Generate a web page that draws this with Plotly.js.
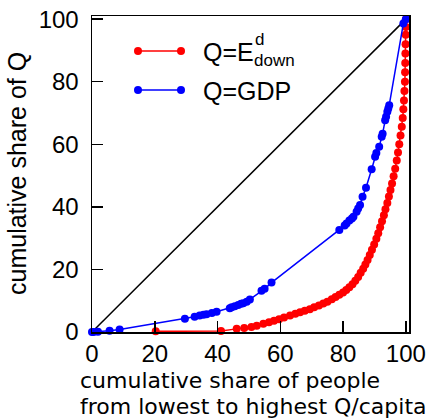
<!DOCTYPE html>
<html>
<head>
<meta charset="utf-8">
<script src="https://cdn.plot.ly/plotly-3.0.1.min.js"></script>
<style>html,body{margin:0;padding:0;background:#fff;}#chart{width:427px;height:419px;}</style>
</head>
<body>
<div id="chart"></div>
<script>
// Q = E_down^d  (red)
const edownX = [20.3, 41.1, 46.1, 48.5, 50.8, 52.5, 54.6, 56.4, 58.0, 59.6, 61.2, 63.1, 64.8, 66.3, 67.8, 69.4, 70.8, 72.3, 73.7, 75.0, 76.4, 77.6, 78.8, 80.0, 81.0, 82.0, 83.0, 83.9, 84.8, 85.6, 86.4, 87.1, 87.8, 88.5, 89.2, 89.9, 90.6, 91.2, 91.8, 92.4, 93.0, 93.5, 94.1, 94.6, 95.1, 95.6, 96.1, 96.6, 97.1, 97.5, 97.9, 98.3, 98.7, 99.0, 99.2, 99.4, 99.55, 99.7, 99.75, 99.8, 99.85, 99.9, 99.95, 100, 100];
const edownY = [0.2, 0.3, 1.0, 1.3, 1.6, 2.0, 2.6, 3.1, 3.6, 4.1, 4.6, 5.3, 5.8, 6.3, 6.8, 7.3, 7.9, 8.5, 9.1, 9.7, 10.5, 11.2, 11.9, 12.6, 13.4, 14.3, 15.3, 16.4, 17.6, 18.9, 20.2, 21.6, 23.0, 24.6, 26.3, 28.0, 29.8, 31.6, 33.5, 35.4, 37.3, 39.2, 41.2, 43.3, 45.4, 47.5, 49.8, 52.2, 54.8, 57.4, 60.0, 62.8, 65.6, 68.4, 71.2, 74.0, 77.0, 80.0, 83.0, 86.0, 89.0, 92.0, 95.0, 97.5, 100];
// Q = GDP (blue)
const gdpX = [0, 0.5, 1.9, 5.6, 8.8, 29.6, 32.7, 34.3, 35.5, 36.5, 38.2, 39.7, 43.9, 44.5, 45.5, 46.6, 47.5, 48.2, 49.3, 50.3, 54.0, 55.0, 57.2, 78.8, 80.5, 81.1, 82.0, 82.8, 83.3, 84.3, 84.8, 85.4, 86.2, 87.3, 89.1, 90.2, 90.6, 91.5, 92.3, 92.6, 93.4, 93.7, 94.1, 94.4, 94.7, 99.2, 100];
const gdpY = [0, 0.02, 0.1, 0.4, 0.8, 4.2, 4.9, 5.3, 5.5, 5.7, 6.1, 6.5, 7.6, 7.9, 8.2, 8.6, 9.0, 9.2, 9.7, 10.4, 13.2, 13.8, 15.8, 32.6, 34.0, 34.7, 35.6, 36.3, 36.8, 38.4, 39.5, 40.6, 43.2, 46.1, 52.0, 56.0, 57.2, 59.2, 62.4, 63.4, 67.7, 68.8, 70.4, 71.4, 72.5, 98.6, 100];
// line of equality
const eqX = [0, 100];
const eqY = [0, 100];
const tickVals = [0, 20, 40, 60, 80, 100];
const tickText = ['0', '20', '40', '60', '80', '100'];
const xTitle1 = 'cumulative share of people';
const xTitle2 = 'from lowest to highest Q/capita';
const yTitle = 'cumulative share of Q';
const nameEdown = 'Q=E';
const nameGdp = 'Q=GDP';

const FONT = 'Liberation Sans, Arial, Helvetica, sans-serif';
const WIDE = 'DejaVu Sans, Liberation Sans, sans-serif';
const RED = '#ff0000', BLUE = '#0000ff';

const traces = [
  {x: eqX, y: eqY, mode: 'lines', line: {color: '#000', width: 1.5}, showlegend: false, hoverinfo: 'skip'},
  {x: edownX, y: edownY, mode: 'lines+markers', name: 'Q=E_down^d', line: {color: RED, width: 1.5},
   marker: {color: RED, size: 8}, cliponaxis: false, showlegend: false},
  {x: gdpX, y: gdpY, mode: 'lines+markers', name: nameGdp, line: {color: BLUE, width: 1.5},
   marker: {color: BLUE, size: 8}, cliponaxis: false, showlegend: false}
];

// plot area in px: x 92..409, y 16..332
const L = 92, R = 409, T = 16, B = 332;
const px = v => (v - L) / (R - L);
const py = v => (B - v) / (B - T);

function legendShapes(yPix, color) {
  const s = [];
  s.push({type: 'line', xref: 'paper', yref: 'paper', x0: px(138), x1: px(181), y0: py(yPix), y1: py(yPix),
          line: {color: color, width: 1.5}});
  [138, 181].forEach(xp => {
    s.push({type: 'circle', xref: 'paper', yref: 'paper', xsizemode: 'pixel', ysizemode: 'pixel',
            xanchor: px(xp), yanchor: py(yPix), x0: -4, x1: 4, y0: -4, y1: 4,
            fillcolor: color, line: {color: color, width: 0}});
  });
  return s;
}

const axisCommon = {
  range: [0, 101], tickmode: 'array', tickvals: tickVals, ticktext: tickText,
  ticks: 'inside', ticklen: 11, tickwidth: 1.5, tickcolor: '#000',
  showline: true, linewidth: 1.5, linecolor: '#000', mirror: true,
  showgrid: false, zeroline: false,
  tickfont: {family: FONT, size: 24, color: '#000'}
};

const layout = {
  width: 427, height: 419,
  margin: {l: L, r: 427 - R, t: T, b: 419 - B, pad: 0},
  paper_bgcolor: '#fff', plot_bgcolor: '#fff',
  font: {family: FONT, color: '#000'},
  xaxis: Object.assign({}, axisCommon, {ticklabelstandoff: 0}),
  yaxis: Object.assign({}, axisCommon, {ticklabelstandoff: 7}),
  showlegend: false,
  shapes: legendShapes(51, RED).concat(legendShapes(90, BLUE)),
  annotations: [
    {text: nameEdown, xref: 'paper', yref: 'paper', x: px(201), y: py(52), xanchor: 'left', yanchor: 'middle',
     showarrow: false, font: {family: FONT, size: 25, color: '#000'}},
    {text: 'd', xref: 'paper', yref: 'paper', x: px(253), y: py(40), xanchor: 'left', yanchor: 'middle',
     showarrow: false, font: {family: FONT, size: 17, color: '#000'}},
    {text: 'down', xref: 'paper', yref: 'paper', x: px(252), y: py(61), xanchor: 'left', yanchor: 'middle',
     showarrow: false, font: {family: FONT, size: 17, color: '#000'}},
    {text: nameGdp, xref: 'paper', yref: 'paper', x: px(201), y: py(91), xanchor: 'left', yanchor: 'middle',
     showarrow: false, font: {family: FONT, size: 25, color: '#000'}},
    {text: '<span style="font-size:22px">' + xTitle1 + '</span><br><span style="font-size:22px">' + xTitle2 + '</span>',
     xref: 'paper', yref: 'paper', x: px(78), y: py(393), xanchor: 'left', yanchor: 'middle', align: 'left',
     showarrow: false, font: {family: WIDE, size: 20, color: '#000'}},
    {text: yTitle, xref: 'paper', yref: 'paper', x: px(17), y: py(174), xanchor: 'center', yanchor: 'middle',
     textangle: -90, showarrow: false, font: {family: FONT, size: 25, color: '#000'}}
  ]
};

Plotly.newPlot('chart', traces, layout, {staticPlot: true, displayModeBar: false});
</script>
</body>
</html>
